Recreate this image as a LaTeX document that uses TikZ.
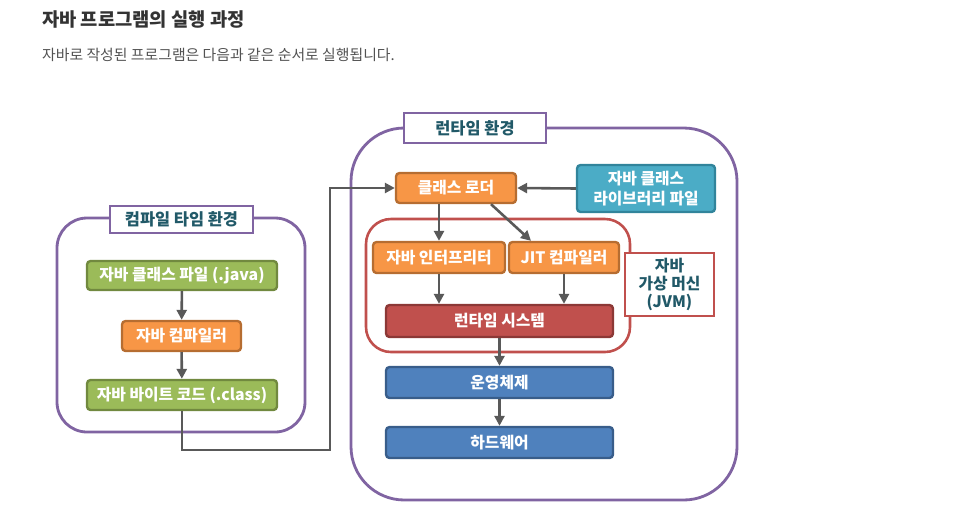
\documentclass[tikz,border=0pt]{standalone}
\usepackage{fontspec}
\setmainfont{Noto Sans CJK KR}
\usepackage{tikz}
\usetikzlibrary{arrows.meta,calc,positioning,fit}
\definecolor{envpurple}{RGB}{128,100,162}
\definecolor{boxgreen}{RGB}{155,187,89}
\definecolor{boxgreenb}{RGB}{113,137,63}
\definecolor{boxorange}{RGB}{247,150,70}
\definecolor{boxorangeb}{RGB}{182,109,49}
\definecolor{boxteal}{RGB}{75,172,198}
\definecolor{boxtealb}{RGB}{49,132,155}
\definecolor{boxred}{RGB}{192,80,77}
\definecolor{boxredb}{RGB}{140,56,54}
\definecolor{boxblue}{RGB}{79,129,189}
\definecolor{boxblueb}{RGB}{56,93,138}
\definecolor{labelteal}{RGB}{33,89,104}
\definecolor{arrgray}{RGB}{89,89,89}
\definecolor{titlegray}{RGB}{51,51,51}

\begin{document}
\begin{tikzpicture}[
      x=0.03cm, y=-0.03cm,
      frame/.style={draw=envpurple, line width=2.4pt, inner sep=0pt},
      envlabel/.style={draw=envpurple, fill=white, line width=2.4pt, font=\fontsize{14}{16}\selectfont\bfseries, text=labelteal, align=center, inner sep=0pt},
      box/.style={rounded corners=3pt, line width=2pt, inner sep=0pt, align=center, font=\fontsize{13.5}{17}\selectfont\bfseries, text=white},
      greenbox/.style={box, draw=boxgreenb, fill=boxgreen},
      orangebox/.style={box, draw=boxorangeb, fill=boxorange},
      tealbox/.style={box, draw=boxtealb, fill=boxteal},
      redbox/.style={box, draw=boxredb, fill=boxred},
      bluebox/.style={box, draw=boxblueb, fill=boxblue},
      arr/.style={-{Triangle[length=3mm,width=3mm]}, line width=2.2pt, color=arrgray}
    ]
      \useasboundingbox (0,0) rectangle (965,526);

      % heading
      \node[anchor=west, text=titlegray, font=\fontsize{16}{19}\selectfont\bfseries] (title) at (38,19) {자바 프로그램의 실행 과정};
      \node[anchor=west, text=titlegray!85, font=\fontsize{12.7}{15}\selectfont] (subtitle) at (38,55) {자바로 작성된 프로그램은 다음과 같은 순서로 실행됩니다.};

      % 1. Compile time
      \node[frame, rounded corners=0.9cm, fit={(57,218) (305,432)}] (compenv) {};
      \node[envlabel, minimum width=4.29cm, minimum height=0.81cm] (complabel) at (181.5,219.5) {컴파일 타임 환경};
      \node[greenbox, minimum width=5.7cm, minimum height=0.87cm] (javafile) at (182,275.5) {자바 클래스 파일 (.java)};
      \node[orangebox, minimum width=3.57cm, minimum height=0.9cm] (compiler) at (181.5,336) {자바 컴파일러};
      \node[greenbox, minimum width=5.7cm, minimum height=0.9cm] (bytecode) at (182,395) {자바 바이트 코드 (.class)};

      % 2. Runtime
      \node[frame, rounded corners=1.6cm, fit={(351,128) (737,500)}] (rtenv) {};
      \node[envlabel, minimum width=4.26cm, minimum height=0.9cm] (rtlabel) at (475,128) {런타임 환경};
      \node[orangebox, minimum width=3.6cm, minimum height=0.9cm] (loader) at (456,188) {클래스 로더};
      \node[tealbox, minimum width=4.14cm, minimum height=1.41cm] (lib) at (646,188.5) {자바 클래스\\라이브러리 파일};

      % 3. JVM
      \node[draw=boxred, line width=2.2pt, rounded corners=0.75cm, inner sep=0pt, fit={(366,219) (630,352)}] (jvm) {};
      \node[draw=boxred, fill=white, line width=2.2pt, inner sep=0pt, minimum width=2.67cm, minimum height=1.89cm, align=center, text=labelteal, font=\fontsize{13.5}{15}\selectfont\bfseries] (jvmlabel) at (669.5,284.5) {자바\\가상 머신\\(JVM)};
      \node[orangebox, minimum width=3.96cm, minimum height=0.93cm] (interp) at (439,257.5) {자바 인터프리터};
      \node[orangebox, minimum width=3.3cm, minimum height=0.93cm] (jit) at (564,257.5) {JIT 컴파일러};
      \node[redbox, minimum width=6.81cm, minimum height=0.96cm] (rts) at (499.5,321) {런타임 시스템};
      \node[bluebox, minimum width=6.81cm, minimum height=0.93cm] (os) at (499.5,382.5) {운영체제};
      \node[bluebox, minimum width=6.81cm, minimum height=0.93cm] (hw) at (499.5,442.5) {하드웨어};

      % connectors
      \coordinate (turn) at (330,450);
      \draw[arr] (javafile) -- (compiler);
      \draw[arr] (compiler) -- (bytecode);
      \draw[arr] (bytecode.south) |- (turn) |- (loader.west);
      \draw[arr] (lib.west) -- (loader.east);
      \draw[arr] (interp.north |- loader.south) -- (interp.north);
      \draw[arr] ($(loader.south)+(35,0)$) -- ($(jit.north)+(-33,0)$);
      \draw[arr] (interp.south) -- (interp.south |- rts.north);
      \draw[arr] (jit.south) -- (jit.south |- rts.north);
      \draw[arr] (rts) -- (os);
      \draw[arr] (os) -- (hw);
    \end{tikzpicture}
\end{document}
